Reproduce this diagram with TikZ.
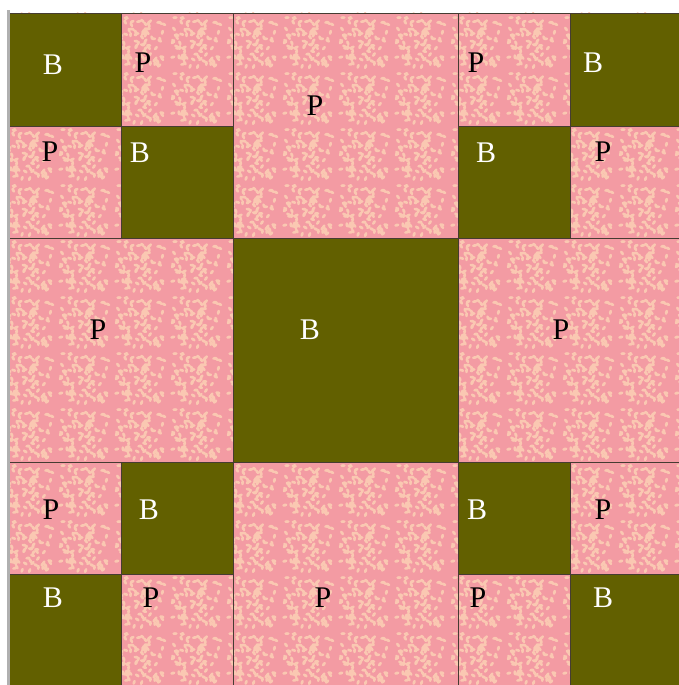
\documentclass[tikz,border=0pt]{standalone}
\usepackage{tikz}
\usepackage{xcolor}
\usepackage{fontspec}
\setmainfont{Liberation Serif}
\usetikzlibrary{patterns}
\definecolor{olive}{RGB}{98,96,0}
\definecolor{pinkbase}{RGB}{243,155,163}
\definecolor{speckle}{RGB}{250,200,178}
\definecolor{seam}{RGB}{70,60,50}
\definecolor{edgegray}{RGB}{176,176,176}

% a tile of random speckles
\pgfdeclarepatternformonly{speckles}{\pgfpoint{0pt}{0pt}}{\pgfpoint{56pt}{56pt}}{\pgfpoint{56pt}{56pt}}{
  \pgfmathsetseed{5}
  \foreach \i in {1,...,90}{
    \pgfmathsetmacro\sx{2.7+rnd*50.6}
    \pgfmathsetmacro\sy{2.7+rnd*50.6}
    \pgfmathsetmacro\sr{rnd*180}
    \pgfmathsetmacro\ax{2.6*cos(\sr)}
    \pgfmathsetmacro\ay{2.6*sin(\sr)}
    \pgfmathsetmacro\bx{-1.5*sin(\sr)}
    \pgfmathsetmacro\by{1.5*cos(\sr)}
    \pgfpathellipse{\pgfpoint{\sx pt}{\sy pt}}{\pgfpoint{\ax pt}{\ay pt}}{\pgfpoint{\bx pt}{\by pt}}
  }
  \pgfusepath{fill}
}

\begin{document}
\begin{tikzpicture}[
  x=1pt, y=-1pt,
  block/.style={fill=olive, draw=seam, line width=0.9pt},
  patch/.style={draw=seam, line width=0.7pt},
  blab/.style={text=white, font=\fontsize{30}{32}\selectfont, inner sep=0pt},
  plab/.style={text=black, font=\fontsize{30}{32}\selectfont, inner sep=0pt}
]
  \useasboundingbox (0,0) rectangle (679,685);
  \fill[white] (0,0) rectangle (679,685);

  % pink ground with speckles
  \fill[pinkbase] (9,13) rectangle (679,685);
  \fill[pattern=speckles, pattern color=speckle] (9,13) rectangle (679,685);

  % seams of the pink patches
  \foreach \xa/\ya/\xb/\yb in {121/13/233/126, 458/13/570/126, 9/126/121/238,
      570/126/681/238, 9/462/121/574, 570/462/681/574, 121/574/233/687,
      458/574/570/687, 233/13/458/238, 9/238/233/462, 458/238/681/462,
      233/462/458/687}{
    \draw[patch] (\xa,\ya) rectangle (\xb,\yb);
  }

  % olive blocks
  \draw[block] (9,13) rectangle (121,126);
  \draw[block] (121,126) rectangle (233,238);
  \draw[block] (570,13) rectangle (681,126);
  \draw[block] (458,126) rectangle (570,238);
  \draw[block] (233,238) rectangle (458,462);
  \draw[block] (121,462) rectangle (233,574);
  \draw[block] (9,574) rectangle (121,687);
  \draw[block] (458,462) rectangle (570,574);
  \draw[block] (570,574) rectangle (681,687);

  % left edge
  \fill[edgegray] (7,10) rectangle (9.5,685);

  % labels
  \node[blab] (b1) at (53,65) {B};
  \node[plab] (p1) at (143,63) {P};
  \node[plab] (p2) at (315,106) {P};
  \node[plab] (p3) at (476,63) {P};
  \node[blab] (b2) at (593,63) {B};
  \node[plab] (p4) at (50,152) {P};
  \node[blab] (b3) at (140,153) {B};
  \node[blab] (b4) at (486,153) {B};
  \node[plab] (p5) at (603,152) {P};
  \node[plab] (p6) at (98,330) {P};
  \node[blab] (b5) at (310,330) {B};
  \node[plab] (p7) at (561,330) {P};
  \node[plab] (p8) at (51,510) {P};
  \node[blab] (b6) at (149,510) {B};
  \node[blab] (b7) at (477,510) {B};
  \node[plab] (p9) at (603,510) {P};
  \node[blab] (b8) at (53,598) {B};
  \node[plab] (p10) at (151,598) {P};
  \node[plab] (p11) at (323,598) {P};
  \node[plab] (p12) at (478,598) {P};
  \node[blab] (b9) at (603,598) {B};
\end{tikzpicture}
\end{document}
